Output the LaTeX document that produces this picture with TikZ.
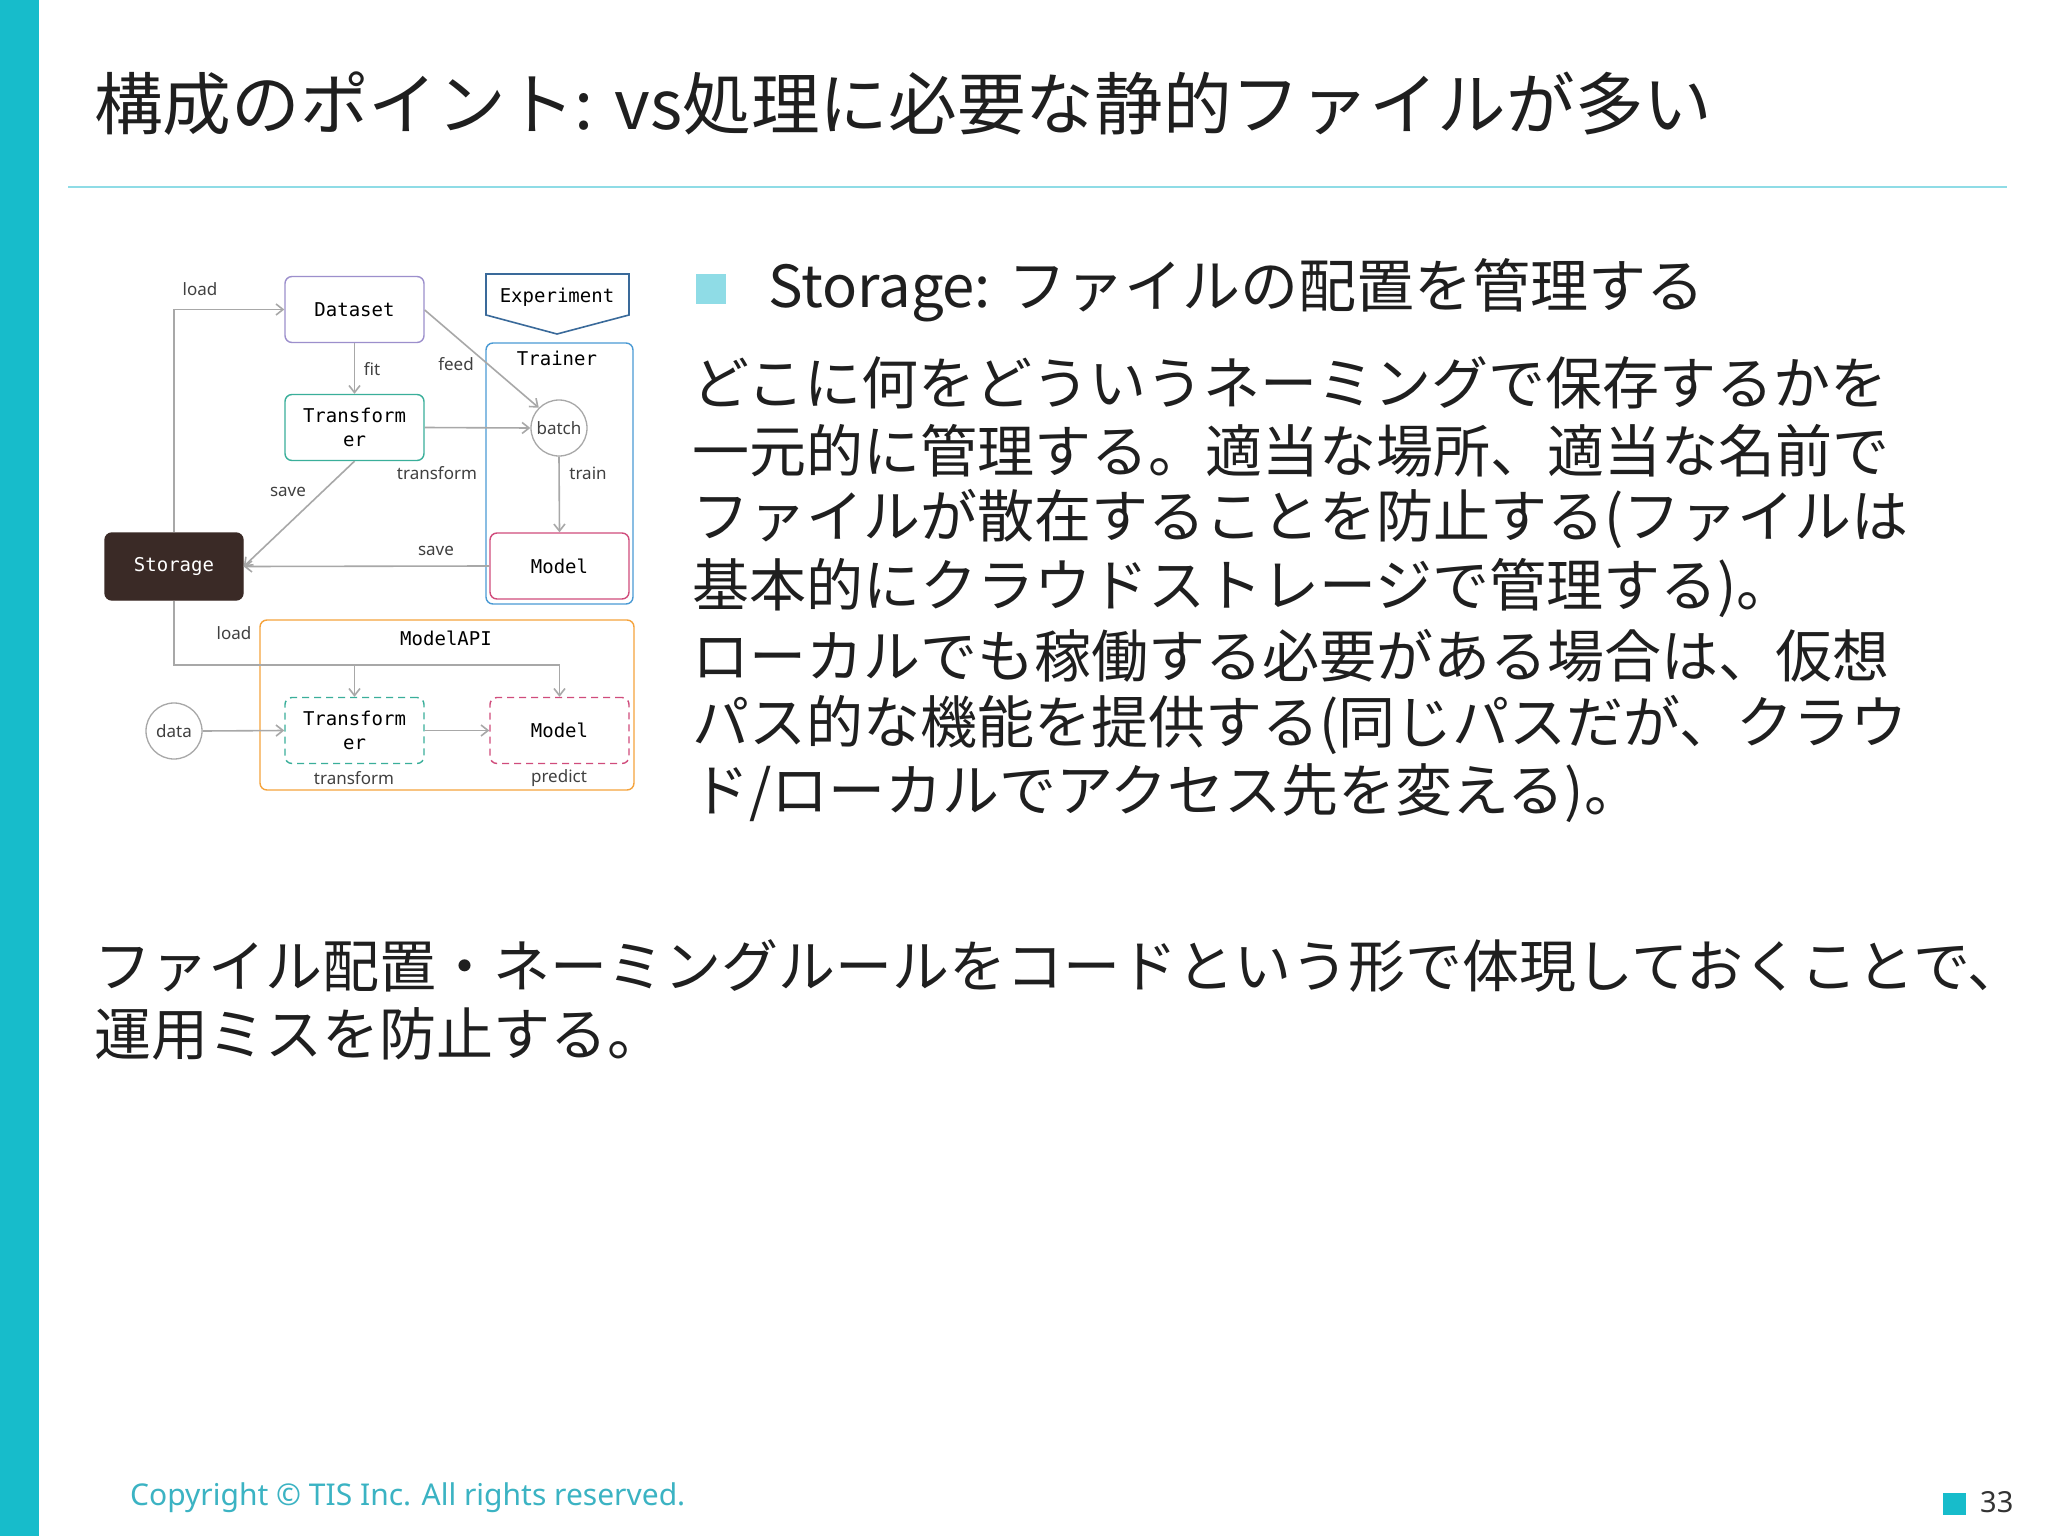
\documentclass[tikz,border=0pt]{standalone}
\usepackage{fontspec}
\setmainfont{Noto Sans CJK JP}
\newfontfamily\jp{Noto Sans CJK JP}
\newfontfamily\monof{DejaVu Sans Mono}
\newfontfamily\labf{Noto Sans}
\usetikzlibrary{arrows.meta,shapes.geometric}
\definecolor{cyanbar}{HTML}{17BCCB}
\definecolor{foot}{HTML}{3BB3C3}
\definecolor{sq}{HTML}{8FDCE6}
\definecolor{lnc}{HTML}{A8A8A8}
\definecolor{dsc}{HTML}{9C8FCC}
\definecolor{trc}{HTML}{3AAF9A}
\definecolor{mdc}{HTML}{D04C7C}
\definecolor{tnc}{HTML}{4A9AD4}
\definecolor{apc}{HTML}{F5A33C}
\definecolor{exc}{HTML}{3A6A9A}
\definecolor{stc}{HTML}{3A2A26}
\tikzset{
 box/.style={draw,rounded corners=7pt,line width=1.4pt,minimum width=139pt,minimum height=66pt,font=\monof\fontsize{19}{24}\selectfont,align=center,inner sep=0pt},
 conn/.style={draw=lnc,line width=1.6pt,-{Straight Barb[length=7pt,width=11pt]}},
 lab/.style={font=\labf\fontsize{17}{20}\selectfont,text=black!75},
 body/.style={anchor=west,font=\jp\fontsize{57}{60}\selectfont,inner sep=0pt,text=black!88},
}
\begin{document}
\begin{tikzpicture}[x=1pt,y=-1pt]
\useasboundingbox (0,0) rectangle (2048,1536);
\fill[white] (0,0) rectangle (2048,1536);
\fill[cyanbar] (0,0) rectangle (39,1536);
\node[body,font=\jp\fontsize{68}{72}\selectfont,xscale=1.01] (title) at (94,104) {構成のポイント: vs処理に必要な静的ファイルが多い};
\draw[sq,line width=1.2pt] (68,187) -- (2007,187);
% diagram
\node[box,draw=dsc] (ds) at (354.5,309.5) {Dataset};
\node[box,draw=trc] (tf) at (354.5,427.5) {Transform\\er};
\node[box,draw=tnc,minimum width=147pt,minimum height=261pt] (tn) at (559.5,473.5) {};
\node[anchor=north,font=\monof\fontsize{19}{24}\selectfont] (tnl) at (557,348) {Trainer};
\node[box,draw=mdc] (md) at (559.5,566) {Model};
\node[box,fill=stc,draw=stc,text=white,minimum width=138pt,minimum height=67pt] (st) at (174,566.5) {Storage};
\node[draw=lnc,circle,line width=1.3pt,minimum size=56pt,inner sep=0pt,lab] (bt) at (559,428) {batch};
\node[draw=lnc,circle,line width=1.3pt,minimum size=56pt,inner sep=0pt,lab] (dt) at (174,731) {data};
\node[box,draw=apc,minimum width=374pt,minimum height=170pt] (api) at (447,705) {};
\node[font=\monof\fontsize{19}{24}\selectfont] (apil) at (446,638) {ModelAPI};
\node[box,draw=trc,dashed,dash pattern=on 7pt off 5pt] (tf2) at (354.5,730.5) {Transform\\er};
\node[box,draw=mdc,dashed,dash pattern=on 7pt off 5pt] (md2) at (559.5,730.5) {Model};
\draw[exc,line width=1.6pt,fill=white] (486,274) -- (629,274) -- (629,315) -- (557,334) -- (486,315) -- cycle;
\node[font=\monof\fontsize{19}{24}\selectfont] (exl) at (557,297) {Experiment};
\coordinate (c1) at (174,309.5);
\coordinate (c2) at (174,665);
\coordinate (c3) at (559.5,665);
\coordinate (c4) at (354.5,665);
\draw[conn] (st.north) -- (c1) -- (ds.west);
\draw[conn] (ds.south) -- (tf.north);
\draw[conn] (ds.east |- 0,310) -- (bt.north west);
\draw[conn] (tf.east) -- (bt.west);
\draw[conn] (bt.south) -- (md.north);
\draw[conn] (tf.south) -- (st.east);
\draw[conn] (md.west) -- (st.east);
\draw[draw=lnc,line width=1.6pt] (st.south) -- (c2) -- (c3);
\draw[conn] (c4) -- (tf2.north);
\draw[conn] (c3) -- (md2.north);
\draw[conn] (dt.east) -- (tf2.west);
\draw[conn] (tf2.east) -- (md2.west);
\node[lab] (l1) at (200,289) {load};
\node[lab] (l2) at (372,369) {fit};
\node[lab] (l3) at (456,364) {feed};
\node[lab] (l4) at (437,473) {transform};
\node[lab] (l5) at (588,473) {train};
\node[lab] (l6) at (288,492) {save};
\node[lab] (l7) at (436,551) {save};
\node[lab] (l8) at (234,633) {load};
\node[lab] (l9) at (354,778) {transform};
\node[lab] (l10) at (559,778) {predict};
% text
\fill[sq] (696,274) rectangle (726,304);
\node[body,font=\jp\fontsize{58}{60}\selectfont] (h) at (768,290) {Storage: ファイルの配置を管理する};
\node[body] (p1) at (692,383) {どこに何をどういうネーミングで保存するかを};
\node[body] (p2) at (692,451) {一元的に管理する。適当な場所、適当な名前で};
\node[body] (p3) at (692,519) {ファイルが散在することを防止する(ファイルは};
\node[body] (p4) at (692,588) {基本的にクラウドストレージで管理する)。};
\node[body] (p5) at (692,656) {ローカルでも稼働する必要がある場合は、仮想};
\node[body] (p6) at (692,725) {パス的な機能を提供する(同じパスだが、クラウ};
\node[body] (p7) at (692,793) {ド/ローカルでアクセス先を変える)。};
\node[body,font=\jp\fontsize{57}{60}\selectfont] (b1) at (94,966) {ファイル配置・ネーミングルールをコードという形で体現しておくことで、};
\node[body,font=\jp\fontsize{57}{60}\selectfont] (b2) at (94,1034) {運用ミスを防止する。};
\node[anchor=west,text=foot,font=\labf\fontsize{30}{32}\selectfont,inner sep=0pt] (cp) at (130,1498) {Copyright © TIS Inc. All rights reserved.};
\fill[cyanbar] (1943,1493) rectangle (1966,1515);
\node[anchor=west,font=\labf\fontsize{29}{32}\selectfont,inner sep=0pt,text=black!80] (pg) at (1980,1502) {33};
\end{tikzpicture}
\end{document}
